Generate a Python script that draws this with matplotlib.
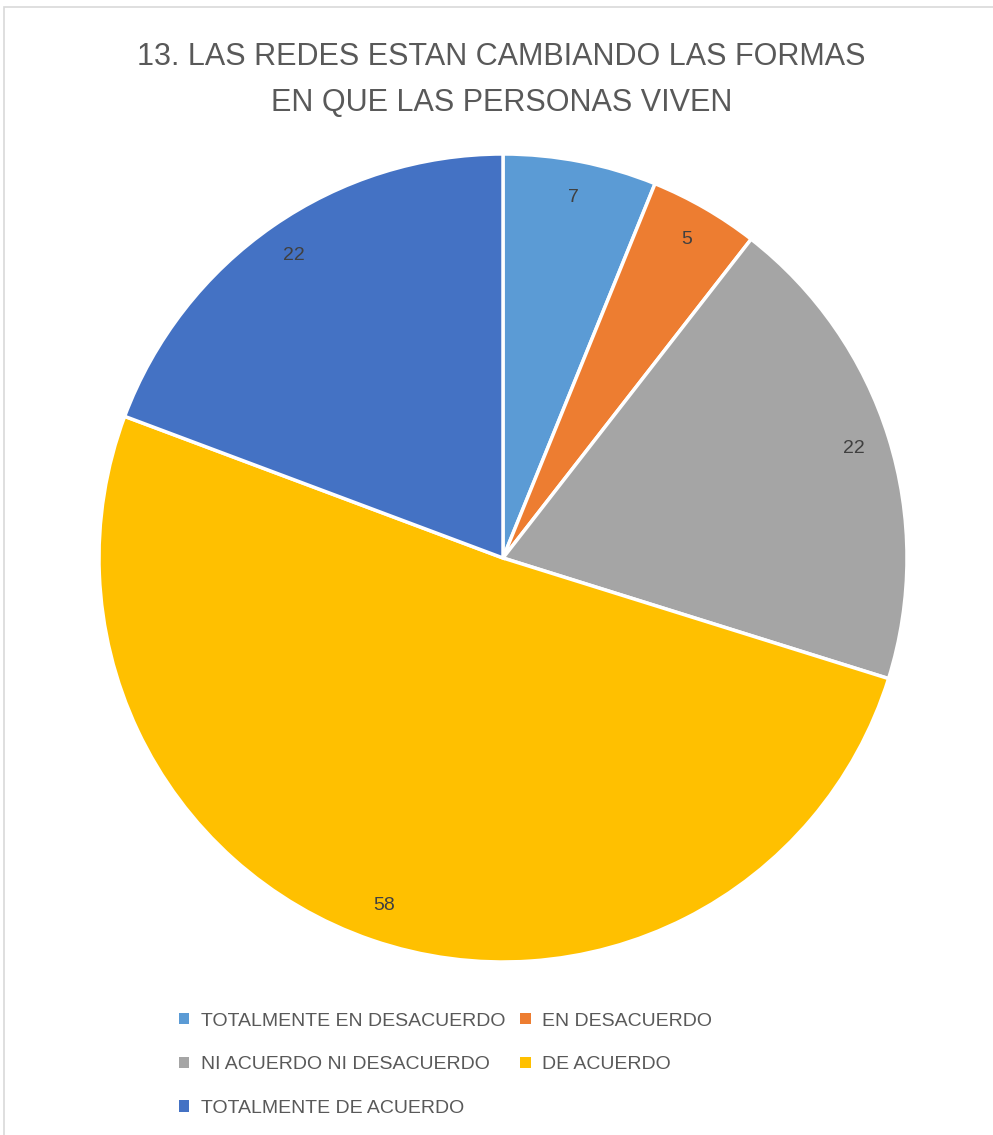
import matplotlib
matplotlib.use('Agg')
import matplotlib.pyplot as plt
from matplotlib.patches import Rectangle

plt.rcParams['font.family'] = ['Liberation Sans', 'DejaVu Sans']

# datos
categorias = ['TOTALMENTE EN DESACUERDO', 'EN DESACUERDO', 'NI ACUERDO NI DESACUERDO',
              'DE ACUERDO', 'TOTALMENTE DE ACUERDO']
valores = [7, 5, 22, 58, 22]
colores = ['#5B9BD5', '#ED7D31', '#A5A5A5', '#FFC000', '#4472C4']
titulo = '13. LAS REDES ESTAN CAMBIANDO LAS FORMAS\nEN QUE LAS PERSONAS VIVEN'

W, H = 993, 1135
fig = plt.figure(figsize=(W / 100, H / 100), dpi=100)

# borde gris del area del grafico
fig.patches.append(Rectangle((4 / W, -0.01), 1.0, 1 - 7 / H + 0.01, transform=fig.transFigure,
                             fill=False, edgecolor='#D9D9D9', linewidth=1.2))

cx, cy, r = 503, 558, 404
ax = fig.add_axes([(cx - r) / W, (H - cy - r) / H, 2 * r / W, 2 * r / H])
wedges, textos = ax.pie(valores, colors=colores, startangle=90, counterclock=False,
                        labels=[str(v) for v in valores], labeldistance=0.91,
                        wedgeprops=dict(edgecolor='white', linewidth=2.5),
                        textprops=dict(color='#404040', fontsize=14))
for t in textos:
    t.set_ha('center')
    t.set_va('center')
ax.set_xlim(-1, 1)
ax.set_ylim(-1, 1)
ax.set_aspect('equal')

fig.text(0.505, 1 - 80 / H, titulo, ha='center', va='center', fontsize=22,
         color='#595959', linespacing=1.72)

orden = [0, 2, 4, 1, 3]
leg = fig.legend([wedges[i] for i in orden], [categorias[i] for i in orden], ncol=2,
                 loc='upper left', bbox_to_anchor=(161 / W, 1 - 995 / H), frameon=False,
                 fontsize=14, handlelength=0.55, handleheight=0.55, handletextpad=0.6,
                 columnspacing=0.75, labelspacing=1.38, labelcolor='#595959')
for h in leg.legend_handles:
    h.set_edgecolor('none')

fig.savefig('out.png', dpi=100)
